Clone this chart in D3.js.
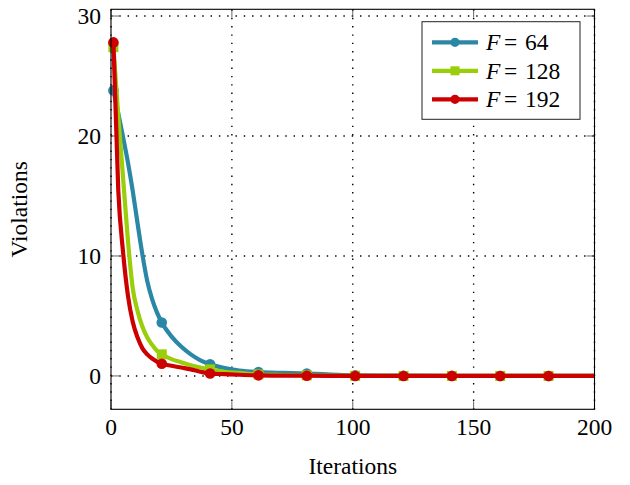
<!DOCTYPE html>
<html>
<head>
<meta charset="utf-8">
<script src="https://cdn.jsdelivr.net/npm/d3@7"></script>
<style>
  body { margin: 0; background: #fff; }
  svg text { font-family: "Liberation Serif", "DejaVu Serif", serif; }
</style>
</head>
<body>
<div id="chart"></div>
<script>
const iterations = [1, 3, 5, 7, 9, 11, 13, 15, 17, 19, 21, 25, 29, 33, 37, 41, 47, 53, 61, 71, 81, 91, 101, 121, 141, 161, 181, 200];
const markIters = [1, 21, 41, 61, 81, 101, 121, 141, 161, 181];

const f64 = [23.8, 21.9, 19.9, 17.8, 15.4, 12.7, 10.1, 7.9, 6.4, 5.3, 4.45, 3.3, 2.45, 1.8, 1.3, 0.98, 0.66, 0.45, 0.32, 0.25, 0.2, 0.12, 0.05, 0.02, 0.01, 0, 0, 0];
const f128 = [27.4, 21.7, 16.5, 11.3, 7.3, 5.4, 4.1, 3.2, 2.6, 2.1, 1.8, 1.4, 1.15, 0.9, 0.7, 0.55, 0.35, 0.25, 0.12, 0.08, 0.05, 0.03, 0.01, 0, 0, 0, 0, 0];
const f192 = [27.8, 15.5, 10.3, 6.7, 4.5, 3.2, 2.3, 1.8, 1.45, 1.2, 1.02, 0.85, 0.7, 0.55, 0.35, 0.2, 0.15, 0.1, 0.05, 0.03, 0.02, 0.01, 0, 0, 0, 0, 0, 0];

const seriesNames = ["64", "128", "192"];
const seriesValues = [f64, f128, f192];
const seriesColors = ["#2a87a6", "#9acd0a", "#cc0000"];
const seriesMarks = ["circle", "square", "circle"];

const xTicks = [0, 50, 100, 150, 200];
const yTicks = [0, 10, 20, 30];

const W = 630, H = 485;
const plotL = 111, plotR = 594.5, plotT = 9.3, plotB = 409.3;
const serif = "'Liberation Serif', 'DejaVu Serif', serif";
const fs = 23.5;

const svg = d3.select("#chart").append("svg")
  .attr("width", W)
  .attr("height", H)
  .attr("font-family", serif);

const x = d3.scaleLinear().domain([0, 200]).range([plotL, plotR]);
const y = d3.scaleLinear().domain([-2.78, 30.56]).range([plotB, plotT]);

// grid
const grid = svg.append("g")
  .attr("stroke", "#000")
  .attr("stroke-width", 1.4)
  .attr("stroke-dasharray", "1.4 6.9");

grid.selectAll(".gx").data(xTicks).enter().append("line")
  .attr("x1", d => x(d)).attr("x2", d => x(d))
  .attr("y1", plotB).attr("y2", plotT);

grid.selectAll(".gy").data(yTicks).enter().append("line")
  .attr("x1", plotL).attr("x2", plotR)
  .attr("y1", d => y(d)).attr("y2", d => y(d));

// ticks, inside on both sides
const ticks = svg.append("g").attr("stroke", "#555").attr("stroke-width", 0.9);
xTicks.forEach(t => {
  ticks.append("line").attr("x1", x(t)).attr("x2", x(t)).attr("y1", plotB).attr("y2", plotB - 8);
  ticks.append("line").attr("x1", x(t)).attr("x2", x(t)).attr("y1", plotT).attr("y2", plotT + 8);
});
yTicks.forEach(t => {
  ticks.append("line").attr("x1", plotL).attr("x2", plotL + 8).attr("y1", y(t)).attr("y2", y(t));
  ticks.append("line").attr("x1", plotR).attr("x2", plotR - 8).attr("y1", y(t)).attr("y2", y(t));
});

// curves
const line = d3.line()
  .x(d => x(d.it))
  .y(d => y(d.v))
  .curve(d3.curveMonotoneX);

function drawMark(g, kind, cx, cy, size, color) {
  if (kind === "square") {
    g.append("rect")
      .attr("x", cx - size).attr("y", cy - size)
      .attr("width", size * 2).attr("height", size * 2)
      .attr("fill", color);
  } else {
    g.append("circle")
      .attr("cx", cx).attr("cy", cy).attr("r", size)
      .attr("fill", color);
  }
}

const plot = svg.append("g");
seriesValues.forEach((vals, i) => {
  const pts = iterations.map((it, j) => ({ it: it, v: vals[j] }));
  plot.append("path")
    .datum(pts)
    .attr("d", line)
    .attr("fill", "none")
    .attr("stroke", seriesColors[i])
    .attr("stroke-width", 4.2)
    .attr("stroke-linejoin", "round");
  const mg = plot.append("g");
  pts.filter(p => markIters.includes(p.it)).forEach(p => {
    drawMark(mg, seriesMarks[i], x(p.it), y(p.v), seriesMarks[i] === "square" ? 5 : 5.3, seriesColors[i]);
  });
});

// frame
svg.append("rect")
  .attr("x", plotL).attr("y", plotT)
  .attr("width", plotR - plotL).attr("height", plotB - plotT)
  .attr("fill", "none")
  .attr("stroke", "#000")
  .attr("stroke-width", 1.1);

// tick labels
svg.append("g").selectAll("text").data(xTicks).enter().append("text")
  .attr("x", d => x(d))
  .attr("y", 434.5)
  .attr("text-anchor", "middle")
  .attr("font-family", serif)
  .attr("font-size", fs)
  .text(d => d);

svg.append("g").selectAll("text").data(yTicks).enter().append("text")
  .attr("x", 101)
  .attr("y", d => y(d) + 7.8)
  .attr("text-anchor", "end")
  .attr("font-family", serif)
  .attr("font-size", fs)
  .text(d => d);

// axis labels
svg.append("text")
  .attr("x", (plotL + plotR) / 2)
  .attr("y", 474)
  .attr("text-anchor", "middle")
  .attr("font-family", serif)
  .attr("font-size", fs)
  .text("Iterations");

svg.append("text")
  .attr("transform", "translate(27," + ((plotT + plotB) / 2) + ") rotate(-90)")
  .attr("text-anchor", "middle")
  .attr("font-family", serif)
  .attr("font-size", fs)
  .text("Violations");

// legend
const legend = svg.append("g");
legend.append("rect")
  .attr("x", 422).attr("y", 21.7)
  .attr("width", 158).attr("height", 97.6)
  .attr("fill", "#fff")
  .attr("stroke", "#222")
  .attr("stroke-width", 1);

seriesNames.forEach((name, i) => {
  const ry = 42.3 + i * 28.5;
  legend.append("line")
    .attr("x1", 432).attr("x2", 478)
    .attr("y1", ry).attr("y2", ry)
    .attr("stroke", seriesColors[i])
    .attr("stroke-width", 4.2);
  drawMark(legend, seriesMarks[i], 455, ry, seriesMarks[i] === "square" ? 4.5 : 4.6, seriesColors[i]);
  const t = legend.append("text")
    .attr("y", ry + 7.8)
    .attr("font-family", serif)
    .attr("font-size", fs);
  t.append("tspan").attr("x", 486).attr("font-style", "italic").text("F");
  t.append("tspan").attr("x", 504).text("=");
  t.append("tspan").attr("x", 525).text(name);
});
</script>
</body>
</html>
